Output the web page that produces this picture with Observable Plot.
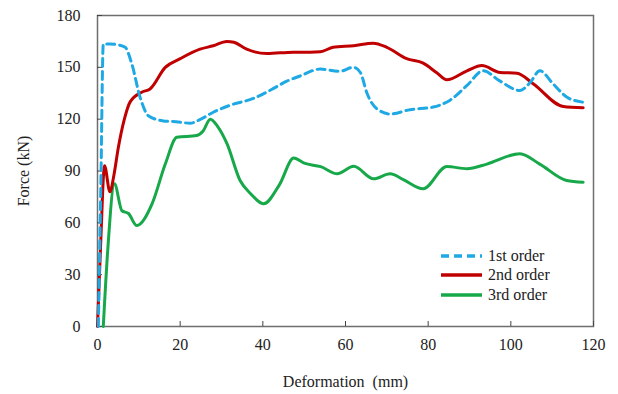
<!DOCTYPE html>
<html>
<head>
<meta charset="utf-8">
<script src="https://cdn.jsdelivr.net/npm/d3@7"></script>
<script src="https://cdn.jsdelivr.net/npm/@observablehq/plot@0.6"></script>
<style>
  html, body { margin: 0; padding: 0; background: #fff; }
  #wrap { position: relative; width: 618px; height: 394px; }
  #legend { position: absolute; left: 441px; top: 246px; font-family: "Liberation Serif", "Times New Roman", serif; font-size: 16px; color: #222; }
  #legend .row { display: flex; align-items: center; height: 19.5px; }
  #legend svg { margin-right: 6px; }
  #chart svg, #chart svg text { font-family: "Liberation Serif", "Times New Roman", serif !important; }
</style>
</head>
<body>
<div id="wrap"><div id="chart"></div><div id="legend"></div></div>
<script>
// Series names and colours
const seriesNames = ["1st order", "2nd order", "3rd order"];
const seriesColors = ["#1ea9e4", "#c00000", "#17a84a"];

// 1st order (blue dashed)
const x1 = [0.2, 0.8, 1.4, 3, 5, 6.7, 8.3, 10.3, 12.3, 15.9, 19, 22.4, 25, 28, 32, 37.7, 42, 45.8, 49, 53.9, 58.6, 61.9, 63.6, 65.2, 67.6, 70.8, 75.6, 81.2, 85.3, 89.4, 93.3, 97.4, 102.2, 104.6, 107, 110.2, 113.6, 117.5];
const y1 = [0, 80, 163.5, 163.5, 163, 161.6, 152, 132.7, 122, 119, 118.5, 117.7, 120, 124, 128, 132, 137, 142, 145, 149, 147.7, 150, 147, 135, 126, 123, 125.5, 127, 131, 139.5, 148, 142, 136.6, 141, 148, 140.5, 132.7, 129.8];

// 2nd order (red)
const x2 = [0, 0.8, 1.7, 3, 4, 5, 6.5, 7.9, 10.7, 12.7, 16.4, 20, 24.8, 28, 31.3, 33, 36.1, 41, 47.4, 49, 53.9, 57, 62, 66.7, 70, 74.8, 78.8, 82, 84.5, 89.4, 93, 97.4, 101.5, 105.4, 112.7, 117.5];
const y2 = [0, 50, 93, 78, 88, 103, 120, 130, 135.6, 137.5, 150, 155, 160.5, 162.5, 165, 164.5, 160.5, 158, 158.8, 158.7, 159, 161.6, 162.5, 164, 161.6, 155, 152.4, 147, 142.8, 148, 151, 147, 146.6, 140.5, 127.3, 126.6];

// 3rd order (green)
const x3 = [1.4, 2.5, 4.1, 5.9, 7.5, 9.5, 13.2, 16.4, 19.2, 24, 25.5, 27.3, 29, 31.3, 34.5, 37, 40.2, 44, 47.5, 50, 54, 58, 62, 66.8, 70.8, 74, 78.8, 84.5, 89.4, 94.2, 102.2, 107, 113.5, 117.5];
const y3 = [0, 45, 82.6, 67, 65.4, 58.4, 71, 94, 109.5, 110.5, 113, 120, 116, 106, 84.5, 77, 71, 82, 97.5, 94.5, 92.5, 88.4, 92.7, 85.5, 88.4, 85, 79.7, 92.6, 91.3, 94, 100, 94, 84.5, 83.5];

// Tick labels
const xTicks = [0, 20, 40, 60, 80, 100, 120];
const yTicks = [0, 30, 60, 90, 120, 150, 180];

const mk = (xs, ys) => xs.map((x, i) => ({x, y: ys[i]}));
const d1 = mk(x1, y1), d2 = mk(x2, y2), d3 = mk(x3, y3);

const chart = Plot.plot({
  width: 618,
  height: 394,
  marginLeft: 97,
  marginRight: 25,
  marginTop: 15,
  marginBottom: 68,
  style: {fontFamily: "'Liberation Serif', 'Times New Roman', serif", fontSize: "16px", color: "#222", background: "#fff"},
  x: {domain: [0, 120], ticks: xTicks},
  y: {domain: [0, 180], ticks: yTicks},
  marks: [
    Plot.frame({stroke: "#6e6e6e", strokeWidth: 1.5}),
    Plot.axisX({ticks: xTicks, tickSize: -5, tickPadding: 17, stroke: "#444", label: "Deformation  (mm)", labelAnchor: "center", labelArrow: "none", labelOffset: 60, fontSize: 16}),
    Plot.axisY({ticks: yTicks, tickSize: -5, tickPadding: 22, stroke: "#444", label: "Force (kN)", labelAnchor: "center", labelArrow: "none", labelOffset: 80, fontSize: 16}),
    Plot.line(d3, {x: "x", y: "y", stroke: seriesColors[2], strokeWidth: 3, curve: "monotone-x"}),
    Plot.line(d2, {x: "x", y: "y", stroke: seriesColors[1], strokeWidth: 3, curve: "monotone-x"}),
    Plot.line(d1, {x: "x", y: "y", stroke: seriesColors[0], strokeWidth: 3, strokeDasharray: "8,5", curve: "monotone-x"})
  ]
});
document.getElementById("chart").appendChild(chart);

const legend = document.getElementById("legend");
seriesNames.forEach((name, i) => {
  const row = document.createElement("div");
  row.className = "row";
  const dash = i === 0 ? 'stroke-dasharray="8,5"' : '';
  row.innerHTML = `<svg width="41" height="6"><line x1="0" x2="41" y1="3" y2="3" stroke="${seriesColors[i]}" stroke-width="3.5" ${dash}/></svg><span>${name}</span>`;
  legend.appendChild(row);
});
</script>
</body>
</html>
